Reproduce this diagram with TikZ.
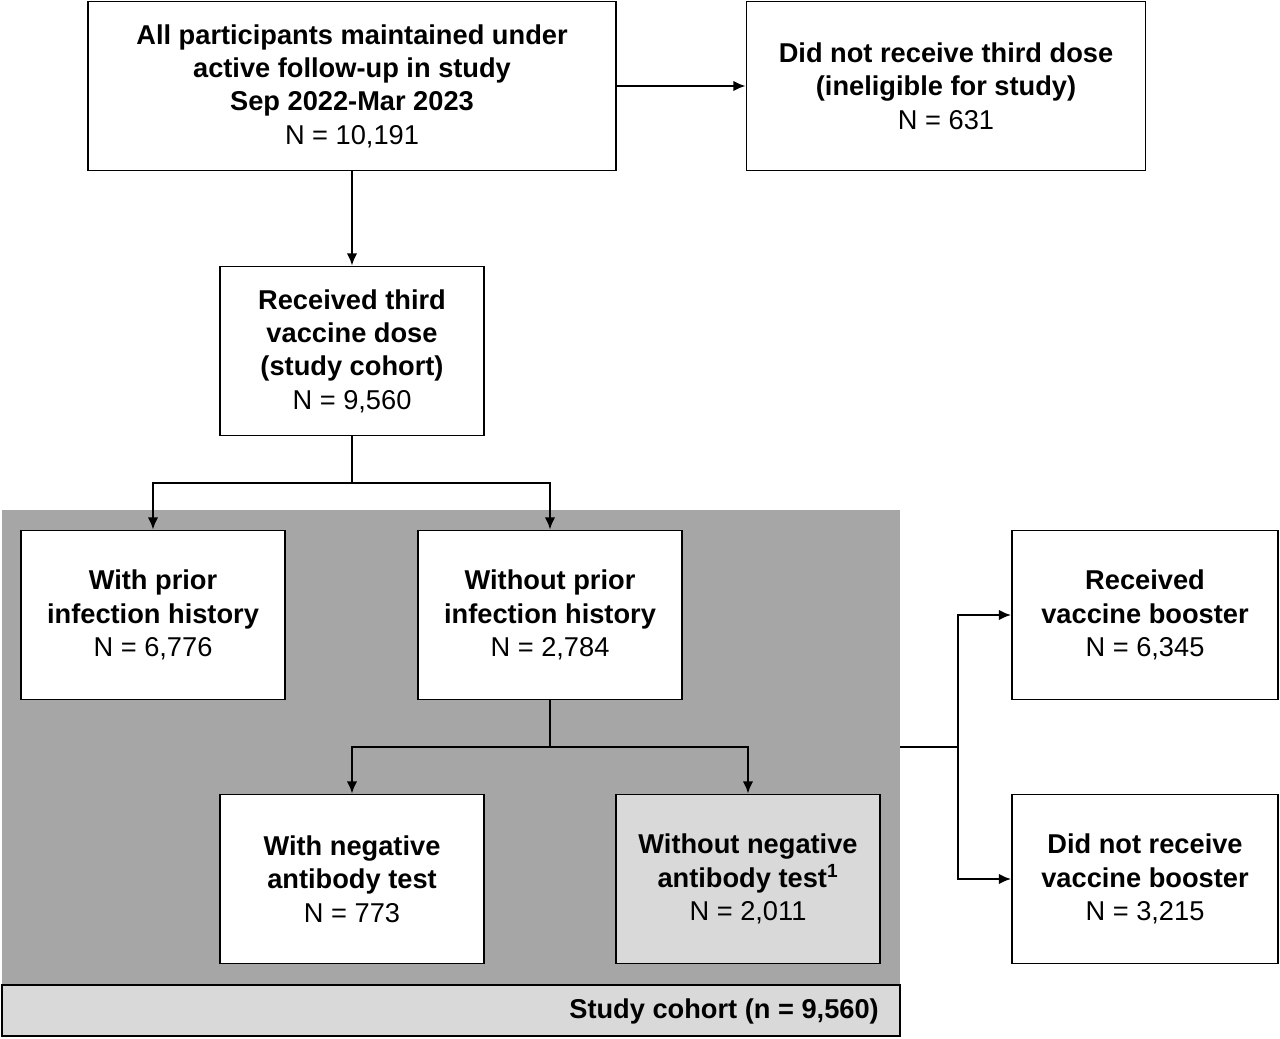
\documentclass[tikz,border=0pt]{standalone}
\usepackage{fontspec}
\setmainfont{Liberation Sans}
\usetikzlibrary{arrows.meta}
\definecolor{regiongrey}{HTML}{A6A6A6}
\definecolor{lightgrey}{HTML}{D9D9D9}
\tikzset{
  box/.style={draw, line width=1pt, fill=white, minimum width=5.28cm, minimum height=3.38cm,
    align=center, font=\fontsize{15.5}{19}\selectfont, inner sep=2pt},
  flow/.style={line width=1.3pt, -{Latex[length=7pt,width=6pt]}},
  link/.style={line width=1.3pt}
}
\begin{document}
\begin{tikzpicture}[x=0.02cm, y=-0.02cm]
\useasboundingbox (0,0) rectangle (1280,1038);

% study cohort region
\fill[regiongrey] (2,510) rectangle (900,1036);
\draw[line width=0.6pt, fill=lightgrey] (2,985) rectangle (900,1036);
\node[anchor=east, font=\fontsize{15.5}{19}\selectfont\bfseries] (cohort) at (885,1011) {Study cohort (n = 9,560)};

% boxes
\node[box, minimum width=10.56cm] (all) at (352,86)
  {\textbf{All participants maintained under}\\\textbf{active follow-up in study}\\\textbf{Sep 2022-Mar 2023}\\N = 10,191};
\node[box, minimum width=7.98cm] (inelig) at (946,86)
  {\textbf{Did not receive third dose}\\\textbf{(ineligible for study)}\\N = 631};
\node[box] (third) at (352,351)
  {\textbf{Received third}\\\textbf{vaccine dose}\\\textbf{(study cohort)}\\N = 9,560};
\node[box] (prior) at (153,615)
  {\textbf{With prior}\\\textbf{infection history}\\N = 6,776};
\node[box] (noprior) at (550,615)
  {\textbf{Without prior}\\\textbf{infection history}\\N = 2,784};
\node[box] (neg) at (352,879)
  {\textbf{With negative}\\\textbf{antibody test}\\N = 773};
\node[box, fill=lightgrey] (noneg) at (748,879)
  {\textbf{Without negative}\\\textbf{antibody test\textsuperscript{1}}\\N = 2,011};
\node[box, minimum width=5.32cm] (booster) at (1145,615)
  {\textbf{Received}\\\textbf{vaccine booster}\\N = 6,345};
\node[box, minimum width=5.32cm] (nobooster) at (1145,879)
  {\textbf{Did not receive}\\\textbf{vaccine booster}\\N = 3,215};

% connectors
\coordinate (split1) at (352,483);
\coordinate (split2) at (550,747);
\coordinate (regionout) at (900,747);
\coordinate (split3) at (958,747);
\draw[flow] (all) -- (inelig);
\draw[flow] (all) -- (third);
\draw[link] (third.south) -- (split1);
\draw[flow] (split1) -| (prior.north);
\draw[flow] (split1) -| (noprior.north);
\draw[link] (noprior.south) -- (split2);
\draw[flow] (split2) -| (neg.north);
\draw[flow] (split2) -| (noneg.north);
\draw[link] (regionout) -- (split3);
\draw[flow] (split3) |- (booster.west);
\draw[flow] (split3) |- (nobooster.west);
\end{tikzpicture}
\end{document}
